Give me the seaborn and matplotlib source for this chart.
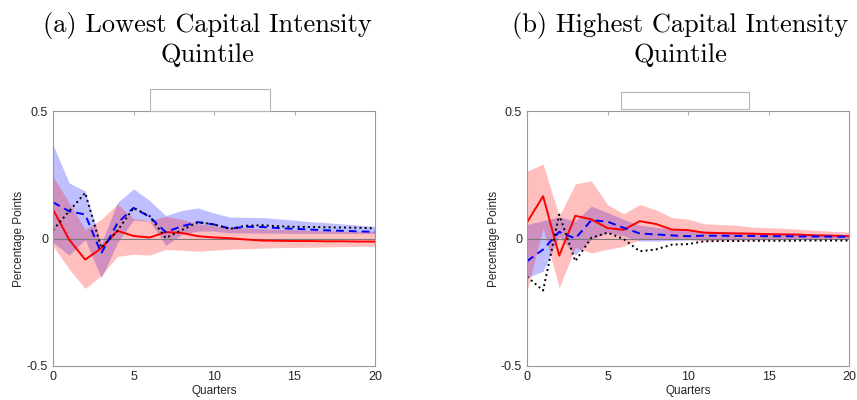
import numpy as np
import pandas as pd
import matplotlib
matplotlib.use("Agg")
import matplotlib.pyplot as plt
import seaborn as sns
from matplotlib.patches import Rectangle

quarters = list(range(21))
x_ticks = [0, 5, 10, 15, 20]
y_ticks = [-0.5, 0, 0.5]
y_tick_labels = ["-0.5", "0", "0.5"]
titles = ["(a) Lowest Capital Intensity\nQuintile", "(b) Highest Capital Intensity\nQuintile"]

# Panel (a): lowest capital intensity quintile
red_a = [0.114, -0.004, -0.083, -0.038, 0.030, 0.010, 0.004, 0.025, 0.022, 0.009, 0.004,
         0.001, -0.004, -0.008, -0.009, -0.010, -0.010, -0.011, -0.011, -0.012, -0.012]
red_a_lo = [-0.028, -0.120, -0.196, -0.145, -0.070, -0.062, -0.065, -0.043, -0.046, -0.050, -0.046,
            -0.042, -0.040, -0.038, -0.036, -0.035, -0.034, -0.033, -0.032, -0.031, -0.030]
red_a_hi = [0.244, 0.140, 0.035, 0.075, 0.135, 0.078, 0.070, 0.087, 0.075, 0.058, 0.050,
            0.045, 0.041, 0.038, 0.036, 0.034, 0.032, 0.030, 0.029, 0.028, 0.027]
blue_a = [0.142, 0.107, 0.094, -0.058, 0.060, 0.120, 0.085, 0.025, 0.048, 0.064, 0.055,
          0.039, 0.046, 0.045, 0.041, 0.038, 0.035, 0.032, 0.030, 0.028, 0.026]
blue_a_lo = [-0.015, -0.065, -0.004, -0.155, -0.017, 0.072, 0.068, -0.027, 0.016, 0.029, 0.029,
             0.022, 0.022, 0.021, 0.021, 0.020, 0.020, 0.020, 0.020, 0.020, 0.020]
blue_a_hi = [0.368, 0.218, 0.186, -0.020, 0.140, 0.195, 0.149, 0.090, 0.110, 0.120, 0.100,
             0.084, 0.083, 0.082, 0.077, 0.072, 0.066, 0.062, 0.057, 0.052, 0.048]
black_a = [0.033, 0.107, 0.179, -0.037, 0.030, 0.120, 0.088, 0.002, 0.033, 0.064, 0.055,
           0.038, 0.050, 0.052, 0.048, 0.046, 0.045, 0.044, 0.043, 0.042, 0.040]

# Panel (b): highest capital intensity quintile
red_b = [0.063, 0.166, -0.067, 0.089, 0.075, 0.041, 0.034, 0.068, 0.057, 0.035, 0.033,
         0.023, 0.021, 0.020, 0.019, 0.017, 0.016, 0.015, 0.012, 0.011, 0.009]
red_b_lo = [-0.206, 0.042, -0.193, -0.036, -0.056, -0.043, -0.030, -0.004, -0.004, 0.000, -0.003,
            -0.010, -0.008, -0.007, -0.006, -0.005, -0.005, -0.004, -0.004, -0.003, -0.003]
red_b_hi = [0.264, 0.292, 0.088, 0.214, 0.226, 0.133, 0.097, 0.133, 0.113, 0.082, 0.076,
            0.058, 0.055, 0.052, 0.045, 0.042, 0.040, 0.036, 0.032, 0.028, 0.025]
blue_b = [-0.089, -0.043, 0.026, 0.000, 0.072, 0.066, 0.042, 0.020, 0.016, 0.012, 0.009,
          0.011, 0.011, 0.010, 0.010, 0.009, 0.009, 0.008, 0.008, 0.007, 0.007]
blue_b_lo = [-0.154, -0.128, 0.009, -0.065, -0.004, 0.022, 0.010, -0.010, -0.010, -0.008, -0.006,
             -0.005, -0.004, -0.004, -0.003, -0.003, -0.002, -0.002, -0.002, -0.002, -0.002]
blue_b_hi = [0.055, 0.070, 0.085, 0.068, 0.127, 0.102, 0.075, 0.052, 0.044, 0.037, 0.032,
             0.029, 0.027, 0.025, 0.023, 0.021, 0.020, 0.019, 0.018, 0.017, 0.016]
black_b = [-0.150, -0.204, 0.094, -0.089, 0.003, 0.023, -0.002, -0.050, -0.043, -0.024, -0.022,
           -0.011, -0.010, -0.010, -0.009, -0.009, -0.009, -0.008, -0.008, -0.008, -0.008]

sns.set_theme(style="white")
plt.rcParams["font.family"] = ["Liberation Sans", "DejaVu Sans"]

W, H = 857, 400
fig = plt.figure(figsize=(W / 100, H / 100), dpi=100)

panels = [
    dict(left=53, red=red_a, red_lo=red_a_lo, red_hi=red_a_hi, blue=blue_a, blue_lo=blue_a_lo,
         blue_hi=blue_a_hi, black=black_a, title=titles[0], tx=207, box=(150, 89, 270, 111)),
    dict(left=527, red=red_b, red_lo=red_b_lo, red_hi=red_b_hi, blue=blue_b, blue_lo=blue_b_lo,
         blue_hi=blue_b_hi, black=black_b, title=titles[1], tx=680, box=(621, 92, 749, 109)),
]

for p in panels:
    ax = fig.add_axes([p["left"] / W, (H - 366) / H, 322 / W, 255 / H])
    ax.fill_between(quarters, p["blue_lo"], p["blue_hi"], color=(0, 0, 1), alpha=0.25, lw=0)
    ax.fill_between(quarters, p["red_lo"], p["red_hi"], color=(1, 0, 0), alpha=0.25, lw=0)
    ax.axhline(0, color="#7a7a7a", lw=0.8, zorder=1.5)
    df = pd.DataFrame({"q": quarters, "red": p["red"], "blue": p["blue"], "black": p["black"]})
    sns.lineplot(data=df, x="q", y="red", ax=ax, color="red", lw=1.4, linestyle="-")
    sns.lineplot(data=df, x="q", y="blue", ax=ax, color="blue", lw=1.4, linestyle=(0, (4, 2.6)))
    sns.lineplot(data=df, x="q", y="black", ax=ax, color="black", lw=1.4, linestyle=":")
    ax.set_xlim(0, 20)
    ax.set_ylim(-0.5, 0.5)
    ax.set_xticks(x_ticks)
    ax.set_xticklabels([str(t) for t in x_ticks])
    ax.set_yticks(y_ticks)
    ax.set_yticklabels(y_tick_labels)
    ax.tick_params(direction="in", length=3, width=0.6, color="#999999", labelsize=9,
                   labelcolor="#262626", top=True, right=True, pad=3.5)
    for s in ax.spines.values():
        s.set_color("#999999")
        s.set_linewidth(0.8)
    ax.set_xlabel("Quarters", fontsize=8.5, color="#262626", labelpad=1.5)
    ax.set_ylabel("Percentage Points", fontsize=8.5, color="#262626", labelpad=1)
    fig.text(p["tx"] / W, 1 - 12 / H, p["title"], ha="center", va="top",
             fontfamily="cmr10", fontsize=19, linespacing=1.25, color="black")
    x0, y0, x1, y1 = p["box"]
    fig.add_artist(Rectangle((x0 / W, 1 - y1 / H), (x1 - x0) / W, (y1 - y0) / H,
                             transform=fig.transFigure, fill=False, ec="#b5b5b5", lw=0.8))

fig.savefig("out.png", dpi=100)
